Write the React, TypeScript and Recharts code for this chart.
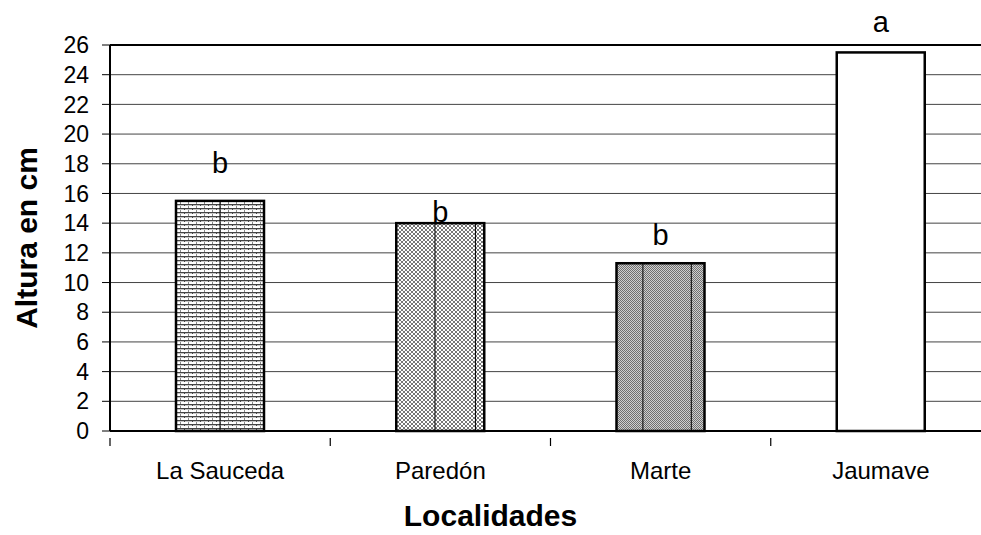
import { ComposedChart, Bar, XAxis, YAxis, CartesianGrid, LabelList, ReferenceLine } from "recharts";

const localidades = ["La Sauceda", "Paredón", "Marte", "Jaumave"];
const altura = [15.5, 14.0, 11.3, 25.5];
const letras = ["b", "b", "b", "a"];
// baseline of each letter, in cm on the same scale as the bars
const letraPos = [17.4, 14.1, 12.5, 26.9];
const yTicks = [0, 2, 4, 6, 8, 10, 12, 14, 16, 18, 20, 22, 24, 26];

const data = localidades.map((name, i) => ({
  name,
  altura: altura[i],
  letra: letras[i],
  letraPos: letraPos[i],
}));

// the plot runs a little past the right edge of the picture, as in the original
const VIEW_W = 981;
const W = 991;
const H = 535;
const M = { top: 45, right: 0, left: 0, bottom: 0 };
const Y_AXIS_W = 110;
const plotW = W - M.left - M.right - Y_AXIS_W;
const step = plotW / localidades.length;

const fills = ["url(#brick)", "url(#cross)", "url(#dense)", "#ffffff"];
// vertical seams inside the bars, as a fraction of bar width
const seams = [[0.5], [0.44, 0.9], [0.3, 0.85], []];

const font = "'Liberation Sans', Arial, sans-serif";

function BarShape(props: any) {
  const { x, y, width, height, index } = props;
  return (
    <g>
      <rect x={x} y={y} width={width} height={height} fill={fills[index]} />
      {seams[index].map((f, k) => (
        <line key={k} x1={x + width * f} x2={x + width * f} y1={y} y2={y + height} stroke="#000" strokeWidth={1} />
      ))}
      <rect x={x} y={y} width={width} height={height} fill="none" stroke="#000" strokeWidth={2.5} />
    </g>
  );
}

function Letter(props: any) {
  const { x, y, width, height, value, index } = props;
  const pxPerCm = height / altura[index];
  const base = y + height - letraPos[index] * pxPerCm;
  return (
    <text x={x + width / 2} y={base} textAnchor="middle" fontSize={29} fontFamily={font} fill="#000">
      {value}
    </text>
  );
}

function XTick(props: any) {
  const { x, y, payload } = props;
  const left = x - step / 2;
  return (
    <g>
      <line x1={left} x2={left} y1={y - 1} y2={y + 7} stroke="#000" strokeWidth={1.2} />
      <text x={x} y={y + 40} textAnchor="middle" fontSize={24} fontFamily={font} fill="#000">
        {payload.value}
      </text>
    </g>
  );
}

function XTitle(props: any) {
  const { viewBox } = props;
  return (
    <text x={VIEW_W / 2} y={viewBox.y + viewBox.height - 9} textAnchor="middle" fontSize={30} fontWeight="bold" fontFamily={font} fill="#000">
      Localidades
    </text>
  );
}

function YTitle(props: any) {
  const { viewBox } = props;
  const cy = viewBox.y + viewBox.height / 2;
  return (
    <text
      x={37}
      y={cy}
      transform={`rotate(-90 37 ${cy})`}
      textAnchor="middle"
      fontSize={30}
      fontWeight="bold"
      fontFamily={font}
      fill="#000"
    >
      Altura en cm
    </text>
  );
}

export default function App() {
  return (
    <div style={{ position: "absolute", left: 0, top: 0, width: VIEW_W, height: H, overflow: "hidden", background: "#fff" }}>
      <ComposedChart width={W} height={H} data={data} margin={M} barCategoryGap="30%">
        <defs>
          <pattern id="brick" width="8" height="4" patternUnits="userSpaceOnUse">
            <rect width="8" height="4" fill="#fff" />
            <rect x="0" y="0" width="8" height="1.3" fill="#444" />
            <rect x="0" y="0" width="1" height="2" fill="#444" />
            <rect x="4" y="2" width="1" height="2" fill="#888" />
          </pattern>
          <pattern id="cross" width="4" height="4" patternUnits="userSpaceOnUse">
            <rect width="4" height="4" fill="#fff" />
            <path d="M0,0 L4,4 M4,0 L0,4" stroke="#777" strokeWidth="1" />
          </pattern>
          <pattern id="dense" width="2" height="2" patternUnits="userSpaceOnUse">
            <rect width="2" height="2" fill="#cfcfcf" />
            <rect x="0" y="0" width="1" height="1" fill="#707070" />
            <rect x="1" y="1" width="1" height="1" fill="#707070" />
          </pattern>
        </defs>
        <CartesianGrid vertical={false} stroke="#444" strokeWidth={1} />
        <XAxis
          dataKey="name"
          height={H - 431 - M.bottom}
          axisLine={{ stroke: "#000", strokeWidth: 2 }}
          tickLine={false}
          tick={<XTick />}
          interval={0}
          label={<XTitle />}
        />
        <YAxis
          width={Y_AXIS_W}
          domain={[0, 26]}
          ticks={yTicks}
          interval={0}
          axisLine={{ stroke: "#000", strokeWidth: 2 }}
          tickLine={{ stroke: "#000", strokeWidth: 1 }}
          tickSize={8}
          tickMargin={13}
          tick={{ fontSize: 23, fontFamily: font, fill: "#000" }}
          label={<YTitle />}
        />
        <ReferenceLine y={26} stroke="#000" strokeWidth={2} />
        <Bar dataKey="altura" barSize={88} shape={<BarShape />} isAnimationActive={false}>
          <LabelList dataKey="letra" content={<Letter />} />
        </Bar>
      </ComposedChart>
    </div>
  );
}
